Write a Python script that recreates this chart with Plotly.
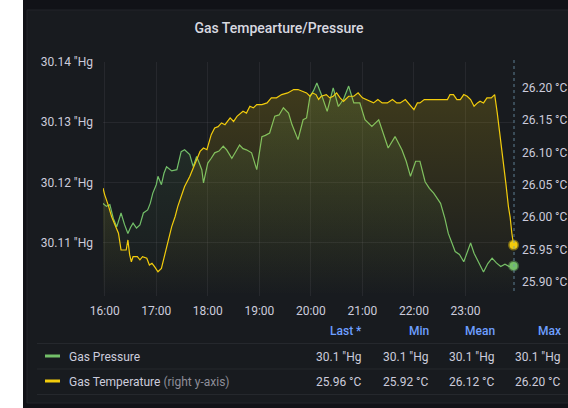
import plotly.graph_objects as go

# ---------------- data ----------------
DAY = "2021-03-01 "

pressure_times = [
    "15:58", "16:02", "16:06", "16:10", "16:14", "16:17", "16:19", "16:23", "16:27", "16:30",
    "16:33", "16:37", "16:41", "16:45", "16:50", "16:53", "16:56", "17:00", "17:02", "17:06",
    "17:09", "17:12", "17:18", "17:24", "17:27", "17:29", "17:33", "17:39", "17:43", "17:47",
    "17:50", "17:53", "17:55", "18:00", "18:04", "18:08", "18:13", "18:18", "18:22", "18:28",
    "18:33", "18:37", "18:41", "18:45", "18:51", "18:57", "19:03", "19:07", "19:12", "19:18",
    "19:23", "19:28", "19:34", "19:38", "19:45", "19:51", "19:55", "19:59", "20:03", "20:07",
    "20:13", "20:19", "20:26", "20:32", "20:38", "20:44", "20:50", "20:57", "21:03", "21:11",
    "21:19", "21:25", "21:30", "21:38", "21:46", "21:51", "21:56", "22:02", "22:07", "22:13",
    "22:18", "22:23", "22:31", "22:36", "22:40", "22:48", "22:53", "22:58", "23:02", "23:06",
    "23:10", "23:14", "23:21", "23:26", "23:31", "23:36", "23:41", "23:46", "23:51", "23:56",
]
pressure_values = [
    30.1165, 30.1160, 30.1163, 30.1140, 30.1126, 30.1138, 30.1149, 30.1130, 30.1115, 30.1125,
    30.1132, 30.1124, 30.1129, 30.1149, 30.1154, 30.1165, 30.1182, 30.1196, 30.1210, 30.1196,
    30.1215, 30.1226, 30.1219, 30.1221, 30.1238, 30.1251, 30.1254, 30.1246, 30.1226, 30.1243,
    30.1232, 30.1221, 30.1199, 30.1232, 30.1240, 30.1249, 30.1252, 30.1260, 30.1254, 30.1240,
    30.1252, 30.1262, 30.1256, 30.1254, 30.1249, 30.1221, 30.1276, 30.1278, 30.1282, 30.1310,
    30.1312, 30.1324, 30.1315, 30.1296, 30.1271, 30.1304, 30.1307, 30.1343, 30.1352, 30.1365,
    30.1343, 30.1318, 30.1357, 30.1326, 30.1338, 30.1360, 30.1332, 30.1332, 30.1304, 30.1293,
    30.1304, 30.1280, 30.1257, 30.1276, 30.1254, 30.1235, 30.1210, 30.1235, 30.1235, 30.1201,
    30.1190, 30.1182, 30.1165, 30.1140, 30.1115, 30.1085, 30.1080, 30.1068, 30.1085, 30.1099,
    30.1082, 30.1071, 30.1051, 30.1065, 30.1074, 30.1066, 30.1060, 30.1064, 30.1060, 30.1061,
]

temperature_times = [
    "15:58", "16:00", "16:04", "16:08", "16:12", "16:16", "16:19", "16:25", "16:27", "16:29",
    "16:31", "16:33", "16:38", "16:41", "16:44", "16:49", "16:52", "16:55", "16:58", "17:02",
    "17:06", "17:09", "17:12", "17:15", "17:18", "17:22", "17:25", "17:29", "17:33", "17:39",
    "17:45", "17:51", "17:55", "17:59", "18:04", "18:08", "18:12", "18:16", "18:20", "18:26",
    "18:30", "18:34", "18:41", "18:45", "18:49", "18:53", "18:57", "19:03", "19:09", "19:14",
    "19:20", "19:26", "19:33", "19:40", "19:45", "19:51", "19:55", "19:59", "20:02", "20:06",
    "20:09", "20:12", "20:18", "20:22", "20:26", "20:30", "20:34", "20:38", "20:44", "20:50",
    "20:55", "21:00", "21:05", "21:13", "21:18", "21:23", "21:29", "21:35", "21:40", "21:44",
    "21:50", "21:55", "22:00", "22:04", "22:07", "22:12", "22:17", "22:23", "22:30", "22:35",
    "22:39", "22:42", "22:46", "22:50", "22:54", "22:58", "23:02", "23:06", "23:10", "23:14",
    "23:17", "23:21", "23:25", "23:30", "23:34", "23:37", "23:40", "23:43", "23:47", "23:50",
    "23:52", "23:54", "23:56",
]
temperature_values = [
    26.0449, 26.0345, 26.0190, 26.0008, 25.9880, 25.9751, 25.9492, 25.9492, 25.9647, 25.9420,
    25.9310, 25.9388, 25.9388, 25.9340, 25.9388, 25.9363, 25.9259, 25.9285, 25.9233, 25.9155,
    25.9208, 25.9380, 25.9543, 25.9700, 25.9853, 26.0010, 26.0163, 26.0320, 26.0474, 26.0629,
    26.0837, 26.1017, 26.1070, 26.1043, 26.1276, 26.1380, 26.1400, 26.1457, 26.1430, 26.1535,
    26.1480, 26.1560, 26.1637, 26.1610, 26.1715, 26.1690, 26.1741, 26.1741, 26.1767, 26.1845,
    26.1845, 26.1896, 26.1922, 26.1974, 26.1974, 26.1947, 26.1922, 26.1870, 26.1922, 26.1896,
    26.1820, 26.1870, 26.1896, 26.1845, 26.1870, 26.1922, 26.1845, 26.1792, 26.1870, 26.1870,
    26.1922, 26.1845, 26.1819, 26.1767, 26.1819, 26.1767, 26.1767, 26.1819, 26.1767, 26.1767,
    26.1819, 26.1740, 26.1663, 26.1767, 26.1767, 26.1819, 26.1819, 26.1819, 26.1819, 26.1819,
    26.1819, 26.1896, 26.1896, 26.1819, 26.1819, 26.1896, 26.1870, 26.1819, 26.1715, 26.1767,
    26.1792, 26.1767, 26.1845, 26.1845, 26.1896, 26.1612, 26.1300, 26.0992, 26.0526, 26.0163,
    26.0000, 25.9751, 25.9569,
]

left_ticks = [30.11, 30.12, 30.13, 30.14]
right_ticks = [25.90, 25.95, 26.00, 26.05, 26.10, 26.15, 26.20]
left_tick_labels = ['30.11 "Hg', '30.12 "Hg', '30.13 "Hg', '30.14 "Hg']
right_tick_labels = ["25.90 °C", "25.95 °C", "26.00 °C", "26.05 °C", "26.10 °C", "26.15 °C", "26.20 °C"]

series_names = ["Gas Pressure", "Gas Temperature"]
stat_headers = ["Last *", "Min", "Mean", "Max"]
pressure_stats = ['30.1 "Hg', '30.1 "Hg', '30.1 "Hg', '30.1 "Hg']
temperature_stats = ["25.96 °C", "25.92 °C", "26.12 °C", "26.20 °C"]

# ---------------- geometry helpers ----------------
W, H = 568, 408
L, R, T, B = 103, 514, 62, 296


def xp(p):
    return (p - L) / (R - L)


def yp(p):
    return (B - p) / (B - T)


GREEN = "#73BF69"
YELLOW = "#F2CC0C"
TEXT = "#ccccdc"
FONT = "Roboto"

px_ = [DAY + t for t in pressure_times]
tx_ = [DAY + t for t in temperature_times]

P_RANGE = [30.1011, 30.14]
T_RANGE = [25.878, 26.240]

fig = go.Figure()

fig.add_trace(go.Scatter(
    x=px_, y=pressure_values, mode="lines", name=series_names[0],
    line=dict(color=GREEN, width=1.2),
    fill="tozeroy",
    fillgradient=dict(type="vertical", start=P_RANGE[0], stop=P_RANGE[1],
                      colorscale=[[0, "rgba(115,191,105,0)"], [1, "rgba(115,191,105,0.16)"]]),
    yaxis="y", showlegend=False, hoverinfo="skip",
))
fig.add_trace(go.Scatter(
    x=tx_, y=temperature_values, mode="lines", name=series_names[1],
    line=dict(color=YELLOW, width=1.2),
    fill="tozeroy",
    fillgradient=dict(type="vertical", start=T_RANGE[0], stop=T_RANGE[1],
                      colorscale=[[0, "rgba(242,204,12,0)"], [1, "rgba(242,204,12,0.2)"]]),
    yaxis="y2", showlegend=False, hoverinfo="skip",
))
# last-point markers
fig.add_trace(go.Scatter(
    x=[px_[-1]], y=[pressure_values[-1]], mode="markers", yaxis="y",
    marker=dict(size=8, color=GREEN, line=dict(width=3, color="rgba(115,191,105,0.45)")),
    showlegend=False, hoverinfo="skip", cliponaxis=False,
))
fig.add_trace(go.Scatter(
    x=[tx_[-1]], y=[temperature_values[-1]], mode="markers", yaxis="y2",
    marker=dict(size=8, color=YELLOW, line=dict(width=3, color="rgba(242,204,12,0.45)")),
    showlegend=False, hoverinfo="skip", cliponaxis=False,
))

shapes = []
# outer background pieces
shapes.append(dict(type="rect", xref="paper", yref="paper", layer="below",
                   x0=xp(27), x1=xp(575), y0=yp(403), y1=yp(10),
                   fillcolor="#181b1f", line=dict(color="#22252b", width=1)))
shapes.append(dict(type="rect", xref="paper", yref="paper", layer="below",
                   x0=xp(-5), x1=xp(23), y0=yp(415), y1=yp(-5),
                   fillcolor="#ffffff", line=dict(width=0)))
# dotted vertical line at right edge
shapes.append(dict(type="line", xref="paper", yref="paper",
                   x0=1, x1=1, y0=yp(291), y1=yp(60),
                   line=dict(color="rgba(110,150,175,0.8)", width=1, dash="dot")))
# legend separators
for ysep in [343.5, 369, 394.5]:
    shapes.append(dict(type="line", xref="paper", yref="paper",
                       x0=xp(37), x1=xp(568), y0=yp(ysep), y1=yp(ysep),
                       line=dict(color="#25282d", width=1)))
# legend color icons
shapes.append(dict(type="rect", xref="paper", yref="paper",
                   x0=xp(45), x1=xp(60), y0=yp(357.5), y1=yp(354.5),
                   fillcolor=GREEN, line=dict(width=0)))
shapes.append(dict(type="rect", xref="paper", yref="paper",
                   x0=xp(45), x1=xp(60), y0=yp(382.5), y1=yp(379.5),
                   fillcolor=YELLOW, line=dict(width=0)))

annotations = []
col_right = [364, 430.5, 496.5, 563]
for h, xr in zip(stat_headers, col_right):
    annotations.append(dict(xref="paper", yref="paper", x=xp(xr), y=yp(331),
                            xanchor="right", yanchor="middle", showarrow=False,
                            text=h, font=dict(family=FONT, size=12, color="#6E9FFF", weight=500)))
for v, xr in zip(pressure_stats, col_right):
    annotations.append(dict(xref="paper", yref="paper", x=xp(xr), y=yp(356.5),
                            xanchor="right", yanchor="middle", showarrow=False,
                            text=v, font=dict(family=FONT, size=12, color=TEXT)))
for v, xr in zip(temperature_stats, col_right):
    annotations.append(dict(xref="paper", yref="paper", x=xp(xr), y=yp(381.5),
                            xanchor="right", yanchor="middle", showarrow=False,
                            text=v, font=dict(family=FONT, size=12, color=TEXT)))
annotations.append(dict(xref="paper", yref="paper", x=xp(67), y=yp(356.5),
                        xanchor="left", yanchor="middle", showarrow=False,
                        text=series_names[0], font=dict(family=FONT, size=12, color=TEXT)))
annotations.append(dict(xref="paper", yref="paper", x=xp(67), y=yp(381.5),
                        xanchor="left", yanchor="middle", showarrow=False,
                        text=series_names[1] + " <span style='color:#8e8e99'>(right y-axis)</span>",
                        font=dict(family=FONT, size=12, color=TEXT)))

fig.update_layout(
    width=W, height=H,
    margin=dict(l=L, r=W - R, t=T, b=H - B, pad=0, autoexpand=False),
    paper_bgcolor="#111217",
    plot_bgcolor="rgba(0,0,0,0)",
    font=dict(family=FONT, size=12, color=TEXT),
    title=dict(text="Gas Tempearture/Pressure", xref="container", yref="container",
               x=279 / W, y=1 - 28 / H, xanchor="center", yanchor="middle",
               font=dict(family=FONT, size=14, color="#d8d9e0", weight=500)),
    xaxis=dict(type="date", range=[DAY + "15:58:00", DAY + "23:56:30"],
               tickformat="%H:%M", dtick=3600000, tick0=DAY + "16:00",
               showgrid=True, gridcolor="rgba(204,204,220,0.08)", gridwidth=1,
               zeroline=False, showline=False, ticks="", ticklabelstandoff=6,
               tickfont=dict(family=FONT, size=12, color=TEXT)),
    yaxis=dict(range=P_RANGE, tickmode="array", tickvals=left_ticks, ticktext=left_tick_labels,
               showgrid=True, gridcolor="rgba(204,204,220,0.08)", gridwidth=1,
               zeroline=False, showline=False, ticks="", ticklabelstandoff=9,
               tickfont=dict(family=FONT, size=12, color=TEXT)),
    yaxis2=dict(range=T_RANGE, tickmode="array", tickvals=right_ticks, ticktext=right_tick_labels,
                overlaying="y", side="right", showgrid=False,
                zeroline=False, showline=False, ticks="", ticklabelstandoff=7,
                tickfont=dict(family=FONT, size=12, color=TEXT)),
    shapes=shapes,
    annotations=annotations,
    showlegend=False,
)

fig.write_html("out.html", config={"displayModeBar": False},
               post_script="document.body.style.margin='0';")
